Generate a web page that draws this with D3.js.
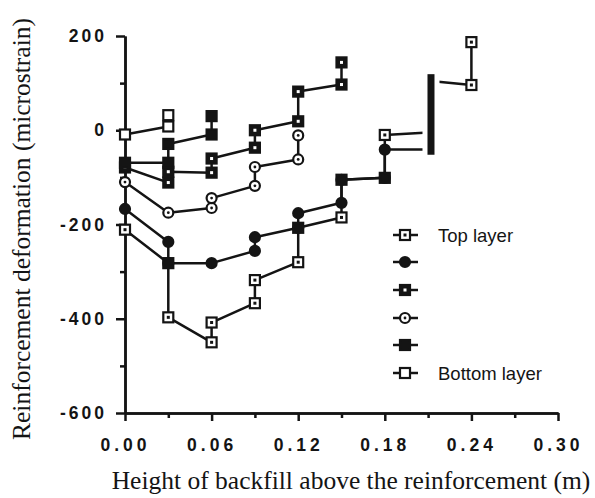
<!DOCTYPE html>
<html>
<head>
<meta charset="utf-8">
<script src="https://cdn.jsdelivr.net/npm/d3@7/dist/d3.min.js"></script>
<style>
  body { margin: 0; background: #fff; }
  svg { display: block; }
</style>
</head>
<body>
<svg id="chart" width="595" height="498"></svg>
<script>
// readings: [height of backfill (m), deformation (microstrain)]
var topLayer = [[0, -211], [0.03, -282], [0.03, -397], [0.06, -450], [0.06, -408], [0.09, -367], [0.09, -318],
  [0.12, -280], [0.12, -207], [0.15, -185], [0.15, -105], [0.18, -101], [0.18, -10], [0.21, -5], [0.21, 105],
  [0.24, 96], [0.24, 187]];
var layer2 = [[0, -167], [0.03, -237], [0.03, -282], [0.06, -282], [0.09, -256], [0.09, -227], [0.12, -207],
  [0.12, -176], [0.15, -154], [0.15, -105], [0.18, -101], [0.18, -41], [0.21, -41]];
var layer3 = [[0, -79], [0.03, -111], [0.03, -88], [0.06, -90], [0.06, -60], [0.09, -37], [0.09, 0],
  [0.12, 19], [0.12, 82], [0.15, 97], [0.15, 144]];
var layer4 = [[0, -110], [0.03, -175], [0.06, -165], [0.06, -144], [0.09, -118], [0.09, -78], [0.12, -62], [0.12, -11]];
var layer5 = [[0, -69], [0.03, -69], [0.03, -29], [0.06, -9], [0.06, 30]];
var bottomLayer = [[0, -9], [0.03, 8], [0.03, 32]];

var seriesData = [topLayer, layer2, layer3, layer4, layer5, bottomLayer];
var markerTypes = ['squareDot', 'circleFilled', 'squareHatch', 'circleDot', 'squareFilled', 'squareOpen'];
var legendLabels = ['Top layer', '', '', '', '', 'Bottom layer'];

var xTicks = [0, 0.06, 0.12, 0.18, 0.24, 0.30];
var xMinor = [0.03, 0.09, 0.15, 0.21, 0.27];
var yTicks = [200, 0, -200, -400, -600];
var yMinor = [100, -100, -300, -500];

// the thick bar drawn over the curves near 0.21 m
var barX = 0.212;
var barRange = [119, -52];

var ink = '#141414';
var svg = d3.select('#chart');

var x = d3.scaleLinear().domain([0, 0.30]).range([125, 558]);
var y = d3.scaleLinear().domain([-600, 200]).range([413, 36]);

// axes
var yAxis = d3.axisLeft(y).tickValues(yTicks).tickSize(9).tickSizeOuter(0).tickPadding(9)
  .tickFormat(function(d) { return String(d); });
var yMinorAxis = d3.axisLeft(y).tickValues(yMinor).tickSize(5).tickSizeOuter(0).tickFormat('');
var xAxis = d3.axisBottom(x).tickValues(xTicks).tickSize(8).tickSizeOuter(0).tickPadding(18)
  .tickFormat(d3.format('.2f'));
var xMinorAxis = d3.axisBottom(x).tickValues(xMinor).tickSize(5).tickSizeOuter(0).tickFormat('');

function styleAxis(g) {
  g.selectAll('path, line').attr('stroke', ink).attr('stroke-width', 2.5);
  g.selectAll('text')
    .attr('fill', ink)
    .style('font-family', '"Liberation Sans", Arial, sans-serif')
    .style('font-size', '17.5px')
    .style('font-weight', 'bold')
    .style('letter-spacing', '3px');
}

svg.append('g').attr('transform', 'translate(' + x(0) + ',0)').call(yMinorAxis).call(styleAxis);
svg.append('g').attr('transform', 'translate(' + x(0) + ',0)').call(yAxis).call(styleAxis);
svg.append('g').attr('transform', 'translate(0,' + y(-600) + ')').call(xMinorAxis).call(styleAxis);
svg.append('g').attr('transform', 'translate(0,' + y(-600) + ')').call(xAxis).call(styleAxis);
svg.selectAll('g.tick text').filter(function() { return this.parentNode.parentNode.getAttribute('transform').indexOf('translate(0,') === 0; })
  .style('letter-spacing', '4px');

// axis titles
svg.append('text')
  .attr('transform', 'translate(30,229) rotate(-90)')
  .attr('text-anchor', 'middle')
  .attr('fill', ink)
  .style('font-family', '"Liberation Serif", "Times New Roman", serif')
  .style('font-size', '25.5px')
  .text('Reinforcement deformation (microstrain)');

svg.append('text')
  .attr('x', 351).attr('y', 489)
  .attr('text-anchor', 'middle')
  .attr('fill', ink)
  .style('font-family', '"Liberation Serif", "Times New Roman", serif')
  .style('font-size', '25.5px')
  .text('Height of backfill above the reinforcement (m)');

// lines
var line = d3.line().x(function(d) { return x(d[0]); }).y(function(d) { return y(d[1]); });

svg.append('g').selectAll('path')
  .data(seriesData)
  .enter()
  .append('path')
  .attr('d', line)
  .attr('fill', 'none')
  .attr('stroke', ink)
  .attr('stroke-width', 2.5)
  .attr('stroke-linejoin', 'round');

function drawMarker(g, type) {
  if (type.indexOf('square') === 0) {
    var open = (type === 'squareOpen' || type === 'squareDot');
    g.append('rect')
      .attr('x', -5).attr('y', -5).attr('width', 10).attr('height', 10)
      .attr('fill', open ? '#fff' : ink)
      .attr('stroke', ink).attr('stroke-width', 2.2);
    if (type === 'squareDot') {
      g.append('rect').attr('x', -1.5).attr('y', -1.5).attr('width', 3).attr('height', 3).attr('fill', ink);
    }
    if (type === 'squareHatch') {
      g.append('rect').attr('x', -1.5).attr('y', -1.5).attr('width', 3).attr('height', 3).attr('fill', '#fff');
    }
  } else {
    g.append('circle')
      .attr('r', 5)
      .attr('fill', type === 'circleFilled' ? ink : '#fff')
      .attr('stroke', ink).attr('stroke-width', 2.2);
    if (type === 'circleDot') {
      g.append('circle').attr('r', 1.4).attr('fill', ink);
    }
  }
}

// markers (points hidden behind the bar are skipped)
seriesData.forEach(function(series, i) {
  series.forEach(function(d) {
    if (Math.abs(d[0] - 0.21) < 0.001) return;
    var g = svg.append('g').attr('transform', 'translate(' + x(d[0]) + ',' + y(d[1]) + ')');
    drawMarker(g, markerTypes[i]);
  });
});

// bar with a white margin around it
svg.append('rect')
  .attr('x', x(barX) - 8.5).attr('y', y(barRange[0]) - 4)
  .attr('width', 17).attr('height', y(barRange[1]) - y(barRange[0]) + 8)
  .attr('fill', '#fff');
svg.append('rect')
  .attr('x', x(barX) - 3.5).attr('y', y(barRange[0]))
  .attr('width', 7).attr('height', y(barRange[1]) - y(barRange[0]))
  .attr('fill', ink);

// legend
var legendY = [235, 262, 290, 318, 345, 373];
var legend = svg.append('g');
legendLabels.forEach(function(label, i) {
  var row = legend.append('g').attr('transform', 'translate(405,' + legendY[i] + ')');
  row.append('line').attr('x1', -12).attr('x2', 13).attr('stroke', ink).attr('stroke-width', 2.5);
  drawMarker(row, markerTypes[i]);
  row.append('text')
    .attr('x', 33).attr('y', 6.5)
    .attr('fill', ink)
    .style('font-family', '"Liberation Sans", Arial, sans-serif')
    .style('font-size', '18.5px')
    .text(label);
});
</script>
</body>
</html>
